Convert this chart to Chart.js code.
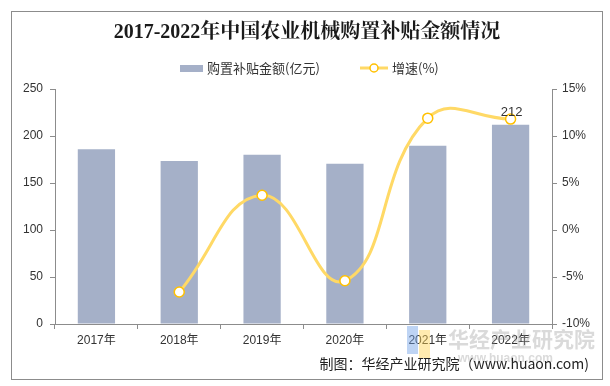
<!DOCTYPE html>
<html>
<head>
<meta charset="utf-8">
<script src="https://cdn.jsdelivr.net/npm/chart.js@4.4.0/dist/chart.umd.min.js"></script>
<style>
  html, body { margin: 0; padding: 0; background: #fff; }
  canvas { display: block; }
</style>
</head>
<body>
<canvas id="c" width="610" height="386"></canvas>
<script>
const years = ['2017年', '2018年', '2019年', '2020年', '2021年', '2022年'];
const subsidy = [186, 173.5, 180, 170.5, 189.5, 212];   // 亿元
const growth = [null, -6.6, 3.7, -5.4, 11.9, 11.8];      // %
const leftTicks = [0, 50, 100, 150, 200, 250];
const rightTicks = [-10, -5, 0, 5, 10, 15];

const CJK = '"Noto Sans CJK SC", "Noto Sans", sans-serif';
const ARIAL = '"Liberation Sans", "Noto Sans CJK SC", sans-serif';
const BAR = '#A5B0C8';
const LINE = '#FFD966';

// title, legend, frame, source note and the 212 label
const decor = {
    id: 'decor',
    afterDraw(chart) {
        const ctx = chart.ctx;
        ctx.save();

        ctx.strokeStyle = '#8c8c8c';
        ctx.lineWidth = 1;
        ctx.strokeRect(11.5, 11.5, 591, 368);

        ctx.fillStyle = '#1a1a1a';
        ctx.textAlign = 'center';
        ctx.textBaseline = 'middle';
        ctx.font = 'bold 20px "Liberation Serif", "Noto Serif CJK SC", ' + CJK;
        ctx.fillText('2017-2022年中国农业机械购置补贴金额情况', 307, 33);

        // legend
        ctx.font = '13px ' + CJK;
        ctx.textAlign = 'left';
        ctx.fillStyle = BAR;
        ctx.fillRect(180, 65, 23, 7);
        ctx.fillStyle = '#333';
        ctx.fillText('购置补贴金额(亿元)', 207, 68);
        ctx.strokeStyle = LINE;
        ctx.lineWidth = 3;
        ctx.beginPath();
        ctx.moveTo(360, 68);
        ctx.lineTo(388, 68);
        ctx.stroke();
        ctx.beginPath();
        ctx.arc(374, 68, 4, 0, Math.PI * 2);
        ctx.fillStyle = '#fff';
        ctx.fill();
        ctx.strokeStyle = '#FFC000';
        ctx.lineWidth = 1.5;
        ctx.stroke();
        ctx.fillStyle = '#333';
        ctx.fillText('增速(%)', 392, 68);

        // watermark
        ctx.font = 'bold 21px ' + CJK;
        ctx.fillStyle = 'rgba(150,150,150,0.35)';
        ctx.fillText('华经产业研究院', 448, 339);
        ctx.font = 'bold 12px ' + ARIAL;
        ctx.fillText('www.huaon.com', 458, 359);
        ctx.fillStyle = 'rgba(110,160,230,0.45)';
        ctx.fillRect(407, 326, 11, 28);
        ctx.fillStyle = 'rgba(255,210,80,0.45)';
        ctx.fillRect(419, 330, 11, 28);

        // source
        ctx.font = '14px ' + CJK;
        ctx.fillStyle = '#222';
        ctx.textAlign = 'right';
        ctx.fillText('制图：华经产业研究院（www.huaon.com)', 589, 364);

        // value label on last bar
        const meta = chart.getDatasetMeta(0);
        const last = meta.data[meta.data.length - 1];
        ctx.font = '13px ' + ARIAL;
        ctx.textAlign = 'center';
        ctx.textBaseline = 'bottom';
        ctx.fillStyle = '#333';
        ctx.fillText(String(subsidy[subsidy.length - 1]), last.x + 1, last.y - 6);
        ctx.restore();
    }
};

const axisColor = '#8c8c8c';
const tickFont = { family: ARIAL, size: 12 };

new Chart(document.getElementById('c'), {
    type: 'bar',
    data: {
        labels: years,
        datasets: [
            {
                label: '购置补贴金额(亿元)',
                data: subsidy,
                backgroundColor: BAR,
                barPercentage: 0.45,
                categoryPercentage: 1,
                yAxisID: 'y',
                order: 1
            },
            {
                type: 'line',
                label: '增速(%)',
                data: growth,
                borderColor: LINE,
                borderWidth: 3,
                tension: 0.45,
                pointRadius: 5,
                pointBackgroundColor: '#fff',
                pointBorderColor: '#FFC000',
                pointBorderWidth: 1.5,
                yAxisID: 'y1',
                order: 0
            }
        ]
    },
    options: {
        responsive: false,
        animation: false,
        layout: { padding: { top: 89, left: 0, right: 0, bottom: 0 } },
        plugins: {
            legend: { display: false },
            title: { display: false },
            tooltip: { enabled: false }
        },
        scales: {
            x: {
                grid: { offset: true, drawOnChartArea: false, drawTicks: true, tickLength: 5, color: axisColor },
                border: { color: axisColor },
                ticks: { color: '#333', font: tickFont, padding: 4 },
                afterFit(s) { s.height = 62; }
            },
            y: {
                position: 'left',
                min: 0,
                max: 250,
                afterBuildTicks(s) { s.ticks = leftTicks.map(v => ({ value: v })); },
                grid: { drawOnChartArea: false, tickLength: 5, color: axisColor },
                border: { color: axisColor },
                ticks: { color: '#333', font: tickFont, padding: 7 },
                afterFit(s) { s.width = 55; }
            },
            y1: {
                position: 'right',
                min: -10,
                max: 15,
                afterBuildTicks(s) { s.ticks = rightTicks.map(v => ({ value: v })); },
                grid: { drawOnChartArea: false, tickLength: 5, color: axisColor },
                border: { color: axisColor },
                ticks: { color: '#333', font: tickFont, padding: 5, callback: v => v + '%' },
                afterFit(s) { s.width = 58; }
            }
        }
    },
    plugins: [decor]
});
</script>
</body>
</html>
